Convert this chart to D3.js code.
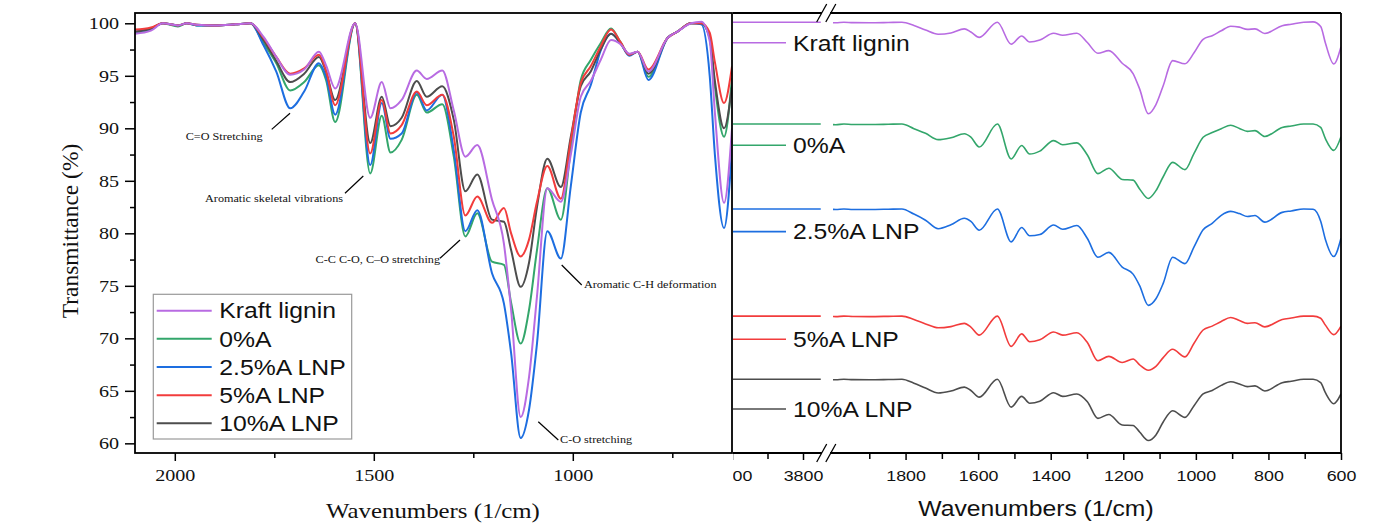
<!DOCTYPE html>
<html>
<head>
<meta charset="utf-8">
<script src="https://cdn.jsdelivr.net/npm/d3@7"></script>
<style>
  body { margin: 0; background: #fff; }
</style>
</head>
<body>
<script>
// FTIR spectra, transmittance (%)
const wavenumbers = [2100, 2060, 2030, 1992, 1970, 1945, 1900, 1848, 1810, 1777, 1745, 1710, 1675, 1638, 1620, 1597, 1547, 1509, 1480, 1458, 1430, 1392, 1367, 1328, 1299, 1270, 1240, 1203, 1173, 1155, 1131, 1110, 1090, 1064, 1030, 1005, 980, 955, 930, 904, 880, 858, 837, 810, 762, 737, 703, 677, 656, 643, 620, 600]
const kraftLignin = [99.0, 99.3, 100.0, 99.8, 100.0, 99.85, 99.8, 99.9, 100.0, 98.7, 96.8, 95.1, 95.6, 97.3, 96.0, 93.8, 100.0, 91.0, 94.4, 91.9, 92.7, 95.5, 94.7, 95.5, 91.7, 87.3, 88.4, 83.2, 79.0, 72.7, 62.5, 66.3, 74.0, 84.3, 83.0, 87.5, 93.0, 94.5, 96.5, 98.4, 98.0, 97.1, 97.3, 95.4, 98.6, 99.2, 100.0, 100.15, 98.3, 91.5, 82.9, 90.0]
const a0 = [99.1, 99.4, 100.0, 99.7, 100.0, 99.8, 99.8, 99.9, 100.0, 98.1, 96.2, 93.6, 94.4, 96.0, 94.6, 90.6, 100.0, 85.7, 91.2, 87.7, 88.9, 93.2, 91.5, 92.3, 87.3, 79.7, 81.9, 77.3, 77.0, 73.4, 69.5, 72.7, 78.4, 84.3, 81.3, 88.0, 94.6, 96.5, 98.1, 99.5, 98.2, 97.0, 97.3, 94.9, 98.6, 99.2, 100.0, 100.0, 98.6, 94.0, 89.2, 94.8]
const a25 = [99.2, 99.5, 100.0, 99.8, 100.0, 99.8, 99.8, 99.9, 100.0, 97.9, 95.4, 91.9, 93.5, 96.2, 94.9, 91.3, 100.0, 86.5, 92.4, 89.0, 89.5, 93.4, 91.7, 93.2, 87.9, 80.2, 82.2, 76.2, 73.3, 68.6, 60.5, 63.2, 69.5, 80.2, 77.6, 84.5, 91.5, 94.1, 97.4, 99.0, 98.1, 96.9, 97.3, 94.6, 98.6, 99.2, 100.0, 99.9, 95.0, 87.5, 80.5, 88.0]
const a5 = [99.4, 99.6, 100.0, 99.8, 100.0, 99.85, 99.8, 99.9, 100.0, 98.6, 96.8, 95.2, 95.7, 97.0, 95.5, 92.2, 100.0, 87.6, 92.7, 89.5, 90.3, 93.5, 92.2, 93.2, 89.2, 81.7, 83.5, 81.0, 82.4, 80.0, 77.8, 79.4, 83.0, 86.4, 83.3, 88.9, 94.3, 95.9, 97.8, 99.4, 98.2, 97.0, 97.3, 95.6, 98.6, 99.2, 100.0, 100.0, 99.1, 96.3, 92.4, 95.9]
const a10 = [99.2, 99.5, 100.0, 99.8, 100.0, 99.85, 99.8, 99.9, 100.0, 98.4, 96.4, 94.4, 95.2, 96.8, 95.4, 92.7, 100.0, 88.6, 93.0, 90.2, 91.0, 94.5, 93.0, 94.0, 90.8, 84.0, 85.6, 81.3, 81.1, 78.4, 74.9, 77.2, 82.5, 87.1, 84.4, 89.2, 94.0, 95.4, 97.5, 99.0, 98.1, 97.0, 97.3, 95.2, 98.6, 99.2, 100.0, 100.0, 98.6, 94.5, 90.0, 94.0]

// high wavenumber region shown in the stacked panel (flat)
const highWavenumbers = [4000, 3875, 3750]
const highTransmittance = [100, 100, 100]

const seriesNames = ['Kraft lignin', '0%A', '2.5%A LNP', '5%A LNP', '10%A LNP']
const seriesValues = [kraftLignin, a0, a25, a5, a10]
const seriesColors = ['#b86be2', '#33a66b', '#1d6ee0', '#f23c3c', '#4d4d4d']
// vertical shift of each spectrum in the stacked panel (transmittance units)
const stackOffsets = [0, -41.7, -76.5, -120.4, -146.3]
const stackLabelLevels = [91.6, 49.6, 14.2, -29.9, -58.5]

const leftYTicks = [60, 65, 70, 75, 80, 85, 90, 95, 100]
const leftYMinor = [62.5, 67.5, 72.5, 77.5, 82.5, 87.5, 92.5, 97.5]
const leftXTicks = [2000, 1500, 1000]
const leftXMinor = [1750, 1250, 750]
const rightHighTicks = [4000, 3800]
const rightHighMinor = [3900]
const rightLowTicks = [1800, 1600, 1400, 1200, 1000, 800, 600]
const rightLowMinor = [1900, 1700, 1500, 1300, 1100, 900, 700]

// annotation text anchor [wavenumber, T], leader line [w1, T1, w2, T2]
const annotations = [
  { text: 'C=O Stretching', at: [1972.6, 88.9], anchor: 'start', line: [1756.5, 89.9, 1710.5, 91.43] },
  { text: 'Aromatic skeletal vibrations', at: [1924, 83.0], anchor: 'start', line: [1572.4, 83.81, 1526.4, 85.46] },
  { text: 'C-C C-O, C\u2013O stretching', at: [1333.7, 77.14], anchor: 'end', line: [1333.7, 77.62, 1283.4, 79.36] },
  { text: 'Aromatic C-H deformation', at: [971.9, 74.76], anchor: 'start', line: [1027.9, 76.98, 977.6, 75.08] },
  { text: 'C-O stretching', at: [1032, 60.0], anchor: 'start', line: [1086.7, 62.06, 1036.4, 60.32] },
]

const SERIF = '"Liberation Serif", "Times New Roman", serif'
const SANS = '"Liberation Sans", Arial, sans-serif'
const stretchX = 1.15 // the original figure's text is a bit wide

const width = 1376, height = 524
const svg = d3.select('body').append('svg').attr('width', width).attr('height', height)

// move x/y into a transform so glyphs can be widened around their anchor
const widen = (sel) => sel.each(function () {
  const t = d3.select(this)
  const x = +t.attr('x') || 0, y = +t.attr('y') || 0
  t.attr('x', null).attr('y', null).attr('transform', `translate(${x},${y}) scale(${stretchX},1)`)
})

const series = seriesNames.map((name, i) => ({
  name,
  color: seriesColors[i],
  offset: stackOffsets[i],
  labelLevel: stackLabelLevels[i],
  low: wavenumbers.map((w, j) => [w, seriesValues[i][j]]),
  high: highWavenumbers.map((w, j) => [w, highTransmittance[j]]),
}))

const defs = svg.append('defs')

const axisStyle = (g, fontSize, family) => {
  g.select('.domain').remove()
  g.selectAll('.tick line').attr('stroke', '#000').attr('stroke-width', 1.5)
  g.selectAll('.tick text').style('font-family', family).style('font-size', fontSize + 'px').attr('fill', '#111')
    .call(widen)
}
const fmt = d3.format('d')

// ---------------- right (stacked, broken axis) panel ----------------
const R = { left: 732, right: 1341, top: 13, bottom: 453, brkL: 820.75, brkR: 833 }
const xR1 = d3.scaleLinear().domain([4000, 3750]).range([R.left, R.brkL])
const xR2 = d3.scaleLinear().domain([2000, 600]).range([R.brkR, R.right])
const yR = d3.scaleLinear().domain([-76.5, 103.8]).range([R.bottom, R.top])

defs.append('clipPath').attr('id', 'clipR2').append('rect')
  .attr('x', R.brkR).attr('y', R.top).attr('width', R.right - R.brkR).attr('height', R.bottom - R.top)

const right = svg.append('g')
series.forEach((s) => {
  const lineHigh = d3.line().x((d) => xR1(d[0])).y((d) => yR(d[1] + s.offset))
  const lineLow = d3.line().x((d) => xR2(d[0])).y((d) => yR(d[1] + s.offset)).curve(d3.curveMonotoneX)
  right.append('path').attr('d', lineHigh(s.high)).attr('fill', 'none').attr('stroke', s.color).attr('stroke-width', 1.6)
  right.append('path').attr('d', lineLow(s.low)).attr('clip-path', 'url(#clipR2)')
    .attr('fill', 'none').attr('stroke', s.color).attr('stroke-width', 1.6)
  // inline legend
  right.append('line').attr('x1', R.left).attr('x2', 786)
    .attr('y1', yR(s.labelLevel)).attr('y2', yR(s.labelLevel))
    .attr('stroke', s.color).attr('stroke-width', 1.6)
  right.append('text').attr('x', 793).attr('y', yR(s.labelLevel)).attr('dy', '0.36em')
    .style('font-family', SANS).style('font-size', '21.5px').attr('fill', '#111').text(s.name)
    .call(widen)
})

right.append('g').attr('transform', `translate(0,${R.bottom})`)
  .call(d3.axisBottom(xR1).tickValues(rightHighTicks).tickSize(7).tickPadding(10).tickFormat(fmt))
  .call((g) => axisStyle(g, 15.5, SANS))
right.append('g').attr('transform', `translate(0,${R.bottom})`)
  .call(d3.axisBottom(xR1).tickValues(rightHighMinor).tickSize(6).tickFormat(''))
  .call((g) => axisStyle(g, 15.5, SANS))
right.append('g').attr('transform', `translate(0,${R.bottom})`)
  .call(d3.axisBottom(xR2).tickValues(rightLowTicks).tickSize(7).tickPadding(10).tickFormat(fmt))
  .call((g) => axisStyle(g, 15.5, SANS))
right.append('g').attr('transform', `translate(0,${R.bottom})`)
  .call(d3.axisBottom(xR2).tickValues(rightLowMinor).tickSize(6).tickFormat(''))
  .call((g) => axisStyle(g, 15.5, SANS))

// frame with break marks
const frame = right.append('g').attr('stroke', '#000').attr('stroke-width', 1.8)
;[R.top, R.bottom].forEach((y) => {
  frame.append('line').attr('x1', R.left).attr('x2', 822).attr('y1', y).attr('y2', y)
  frame.append('line').attr('x1', 830).attr('x2', R.right).attr('y1', y).attr('y2', y)
  ;[821.7, 830.8].forEach((cx) => {
    frame.append('line').attr('x1', cx - 5).attr('y1', y + 9).attr('x2', cx + 5).attr('y2', y - 9).attr('stroke-width', 1.3)
  })
})
frame.append('line').attr('x1', R.right).attr('x2', R.right).attr('y1', R.top).attr('y2', R.bottom)

svg.append('text').attr('x', 1036).attr('y', 516)
  .attr('text-anchor', 'middle').style('font-family', SANS).style('font-size', '21.5px').attr('fill', '#111')
  .text('Wavenumbers (1/cm)').call(widen)

// ---------------- left (overlaid) panel ----------------
// white backdrop, hides the part of the right panel's first label
svg.append('rect').attr('x', 0).attr('y', 0).attr('width', 733).attr('height', 495).attr('fill', '#fff')

const L = { left: 135, right: 732, top: 13, bottom: 453 }
const xL = d3.scaleLinear().domain([2100, 600]).range([L.left, L.right])
const yL = d3.scaleLinear().domain([59.08, 100.98]).range([L.bottom, L.top])

defs.append('clipPath').attr('id', 'clipL').append('rect')
  .attr('x', L.left).attr('y', L.top).attr('width', L.right - L.left).attr('height', L.bottom - L.top)

const left = svg.append('g')
const lineL = d3.line().x((d) => xL(d[0])).y((d) => yL(d[1])).curve(d3.curveMonotoneX)
const drawOrder = [1, 2, 4, 3, 0]
drawOrder.forEach((i) => {
  left.append('path').attr('d', lineL(series[i].low)).attr('clip-path', 'url(#clipL)')
    .attr('fill', 'none').attr('stroke', series[i].color).attr('stroke-width', 2)
})

left.append('g').attr('transform', `translate(${L.left},0)`)
  .call(d3.axisLeft(yL).tickValues(leftYTicks).tickSize(10).tickPadding(6).tickFormat(fmt))
  .call((g) => axisStyle(g, 17.5, SERIF))
left.append('g').attr('transform', `translate(${L.left},0)`)
  .call(d3.axisLeft(yL).tickValues(leftYMinor).tickSize(5).tickFormat(''))
  .call((g) => axisStyle(g, 17.5, SERIF))
left.append('g').attr('transform', `translate(0,${L.bottom})`)
  .call(d3.axisBottom(xL).tickValues(leftXTicks).tickSize(8).tickPadding(8).tickFormat(fmt))
  .call((g) => axisStyle(g, 17.5, SERIF))
left.append('g').attr('transform', `translate(0,${L.bottom})`)
  .call(d3.axisBottom(xL).tickValues(leftXMinor).tickSize(5).tickFormat(''))
  .call((g) => axisStyle(g, 17.5, SERIF))

left.append('rect').attr('x', L.left).attr('y', L.top).attr('width', L.right - L.left).attr('height', L.bottom - L.top)
  .attr('fill', 'none').attr('stroke', '#000').attr('stroke-width', 1.8)

// annotations
annotations.forEach((a) => {
  left.append('line')
    .attr('x1', xL(a.line[0])).attr('y1', yL(a.line[1])).attr('x2', xL(a.line[2])).attr('y2', yL(a.line[3]))
    .attr('stroke', '#000').attr('stroke-width', 1.2)
  left.append('text').attr('x', xL(a.at[0])).attr('y', yL(a.at[1]))
    .attr('text-anchor', a.anchor).style('font-family', SERIF).style('font-size', '10.6px').attr('fill', '#111')
    .text(a.text).call(widen)
})

// legend
const legend = left.append('g').attr('transform', 'translate(153.3,294.3)')
legend.append('rect').attr('width', 198.4).attr('height', 144.7).attr('fill', '#fff')
  .attr('stroke', '#999').attr('stroke-width', 1.2)
series.forEach((s, i) => {
  const y = 16.4 + i * 28.15
  legend.append('line').attr('x1', 3.4).attr('x2', 58.4).attr('y1', y).attr('y2', y)
    .attr('stroke', s.color).attr('stroke-width', 2)
  legend.append('text').attr('x', 66).attr('y', y).attr('dy', '0.36em')
    .style('font-family', SANS).style('font-size', '21.5px').attr('fill', '#111').text(s.name)
    .call(widen)
})

svg.append('text').attr('transform', 'translate(78,231) rotate(-90)')
  .attr('text-anchor', 'middle').style('font-family', SERIF).style('font-size', '23.5px').attr('fill', '#111')
  .text('Transmittance (%)')
svg.append('text').attr('x', 433).attr('y', 518)
  .attr('text-anchor', 'middle').style('font-family', SERIF).style('font-size', '21.6px').attr('fill', '#111')
  .text('Wavenumbers (1/cm)').call(widen)
</script>
</body>
</html>
